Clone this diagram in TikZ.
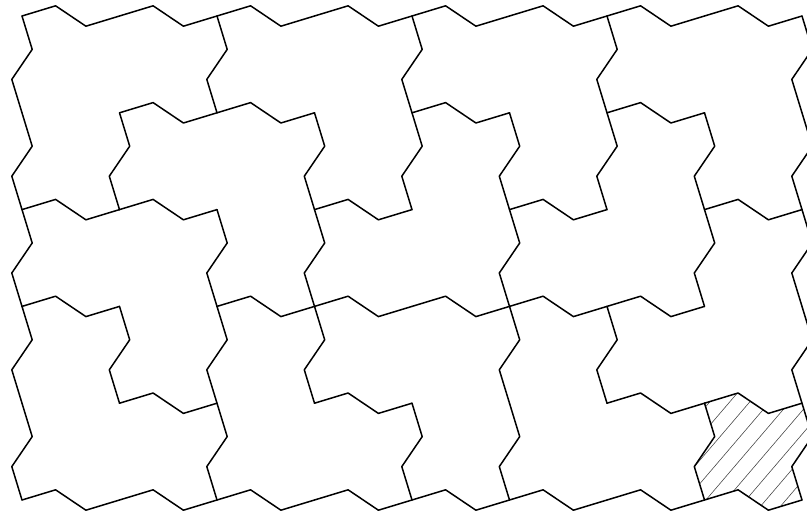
\documentclass[tikz,border=0pt]{standalone}
\begin{document}
\begin{tikzpicture}[x=1pt,y=-1pt,
  edge/.style={line width=1.5pt, line cap=round, line join=round},
  hatchline/.style={line width=0.55pt, black!75}]
\useasboundingbox (0,0) rectangle (807,517);
\fill[white] (0,0) rectangle (807,517);
\clip (0,0) rectangle (807,517);
% hatched cell
\begin{scope}
\clip ({22+97.5*7},{16+96.8*4}) -- ++(33.6,-10.2) -- ++(30.3,20.4) -- ++(33.6,-10.2)
  -- ++(10.2,33.4) -- ++(-20.4,30) -- ++(10.2,33.4)
  -- ++(-33.6,10.2) -- ++(-30.3,-20.4) -- ++(-33.6,10.2)
  -- ++(-10.2,-33.4) -- ++(20.4,-30) -- ++(-10.2,-33.4) -- cycle;
\foreach \k in {-6,...,8}
  \draw[hatchline] (680,{1302.5+23.4*\k-795.6}) -- (830,{1302.5+23.4*\k-971.1});
\end{scope}
% horizontal edges
\foreach \i/\j in {0/0,1/0,2/0,3/0,4/0,5/0,6/0,7/0,
                   1/1,2/1,4/1,6/1,
                   0/2,1/2,3/2,5/2,7/2,
                   0/3,2/3,3/3,4/3,5/3,6/3,
                   1/4,3/4,6/4,7/4,
                   0/5,1/5,2/5,3/5,4/5,5/5,6/5,7/5}
  \draw[edge] ({22+97.5*\i},{16+96.8*\j}) -- ++(33.6,-10.2) -- ++(30.3,20.4) -- ++(33.6,-10.2);
% vertical edges
\foreach \i/\j in {0/0,2/0,4/0,6/0,8/0,
                   0/1,1/1,3/1,4/1,5/1,6/1,7/1,8/1,
                   0/2,2/2,3/2,5/2,7/2,8/2,
                   0/3,1/3,2/3,3/3,5/3,6/3,8/3,
                   0/4,2/4,4/4,5/4,7/4,8/4}
  \draw[edge] ({22+97.5*\i},{16+96.8*\j}) -- ++(10.2,33.4) -- ++(-20.4,30) -- ++(10.2,33.4);
\end{tikzpicture}
\end{document}
